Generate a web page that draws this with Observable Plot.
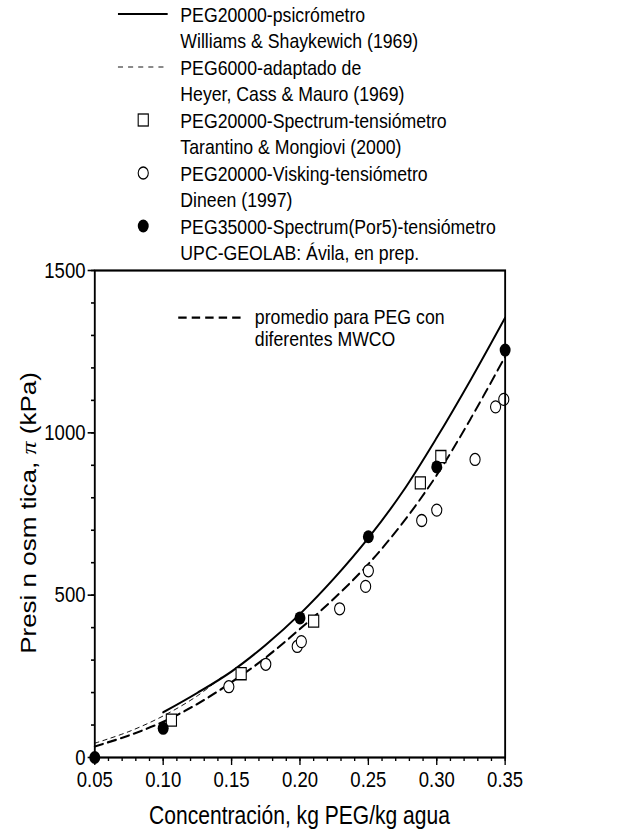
<!DOCTYPE html>
<html>
<head>
<meta charset="utf-8">
<script src="https://cdn.jsdelivr.net/npm/d3@7"></script>
<script src="https://cdn.jsdelivr.net/npm/@observablehq/plot@0.6"></script>
<style>
  html, body { margin: 0; padding: 0; background: #fff; width: 621px; height: 839px; overflow: hidden; }
  #wrap { width: 737px; height: 839px; transform: scaleX(0.84261); transform-origin: 0 0; }
  svg { display: block; }
</style>
</head>
<body>
<div id="wrap"></div>
<script>
// ---- data ----
const majorX = [0.05, 0.10, 0.15, 0.20, 0.25, 0.30, 0.35];
const minorX = d3.range(5, 36).map(d => d / 100);
const majorY = [0, 500, 1000, 1500];
const minorY = d3.range(0, 1501, 100);

// Williams & Shaykewich (1969), PEG20000 psicrómetro (solid)
const solidX = [0.10, 0.125, 0.15, 0.175, 0.20, 0.225, 0.25, 0.275, 0.30, 0.325, 0.35];
const solidY = [139, 199, 265, 347, 442, 552, 676, 818, 985, 1165, 1355];

// promedio para PEG con diferentes MWCO (thick dashed)
const avgX = [0.05, 0.075, 0.10, 0.125, 0.15, 0.175, 0.20, 0.225, 0.25, 0.275, 0.30, 0.325, 0.35];
const avgY = [34, 68, 110, 165, 232, 308, 396, 490, 596, 722, 870, 1045, 1235];

// PEG6000 adaptado de Heyer, Cass & Mauro (1969) (thin dashed)
const heyerX = [0.05, 0.075, 0.10, 0.125, 0.145];
const heyerY = [44, 80, 128, 190, 255];

// Tarantino & Mongiovi (2000) – squares
const squareX = [0.106, 0.157, 0.210, 0.288, 0.303];
const squareY = [115, 258, 420, 846, 927];

// Dineen (1997) – open circles
const openX = [0.148, 0.175, 0.198, 0.201, 0.229, 0.248, 0.250, 0.289, 0.300, 0.328, 0.343, 0.349];
const openY = [218, 287, 342, 357, 458, 527, 575, 730, 762, 918, 1080, 1103];

// UPC-GEOLAB: Ávila – filled circles
const filledX = [0.05, 0.10, 0.20, 0.25, 0.30, 0.35];
const filledY = [0, 90, 430, 680, 895, 1255];

// legend entries
const legendEntries = [
  {type: "solid",  lines: ["PEG20000-psicrómetro", "Williams & Shaykewich (1969)"]},
  {type: "dashed", lines: ["PEG6000-adaptado de", "Heyer, Cass & Mauro (1969)"]},
  {type: "square", lines: ["PEG20000-Spectrum-tensiómetro", "Tarantino & Mongiovi (2000)"]},
  {type: "open",   lines: ["PEG20000-Visking-tensiómetro", "Dineen (1997)"]},
  {type: "filled", lines: ["PEG35000-Spectrum(Por5)-tensiómetro", "UPC-GEOLAB: Ávila, en prep."]}
];
const noteLines = ["promedio para PEG con", "diferentes MWCO"];
const noteSample = [{x1: 0.111, x2: 0.160, y: 1355}];
const noteText = [{x: 0.167, y: 1385, t: noteLines.join("\n")}];

const xTitle = "Concentración, kg PEG/kg agua";
const yTitleA = "Presi n osm tica, ";
const yTitlePi = "π";
const yTitleB = " (kPa)";

const FONT = "'Liberation Sans', Arial, Helvetica, sans-serif";
const W = 737; // drawn at this width, then squeezed to 621 px like the reference

// ---- build tables ----
const zip = (xs, ys) => xs.map((x, i) => ({x, y: ys[i]}));
const solid = zip(solidX, solidY);
const avg = zip(avgX, avgY);
const heyer = zip(heyerX, heyerY);
const squares = zip(squareX, squareY);
const opens = zip(openX, openY);
const filleds = zip(filledX, filledY);

// ---- legend above the plot ----
const LEG_H = 268;
const leg = d3.select("#wrap").append("svg")
  .attr("width", W).attr("height", LEG_H)
  .style("overflow", "visible")
  .style("font-family", FONT).style("font-size", "21px");
const lineH = 26.5, firstY = 14, textX = 214, symX = 170, lx1 = 140, lx2 = 199;
legendEntries.forEach((e, i) => {
  const y0 = firstY + i * 2 * lineH;
  e.lines.forEach((t, j) => {
    leg.append("text").attr("x", textX).attr("y", y0 + j * lineH)
      .attr("dy", "0.36em").attr("fill", "black").text(t);
  });
  if (e.type === "solid") {
    leg.append("line").attr("x1", lx1).attr("x2", lx2).attr("y1", y0).attr("y2", y0)
      .attr("stroke", "black").attr("stroke-width", 1.8);
  } else if (e.type === "dashed") {
    leg.append("line").attr("x1", lx1).attr("x2", lx2).attr("y1", y0).attr("y2", y0)
      .attr("stroke", "black").attr("stroke-width", 1).attr("stroke-dasharray", "6,6");
  } else if (e.type === "square") {
    leg.append("rect").attr("x", symX - 6).attr("y", y0 - 6).attr("width", 12).attr("height", 12)
      .attr("fill", "none").attr("stroke", "black").attr("stroke-width", 1.3);
  } else if (e.type === "open") {
    leg.append("circle").attr("cx", symX).attr("cy", y0).attr("r", 6)
      .attr("fill", "none").attr("stroke", "black").attr("stroke-width", 1.3);
  } else {
    leg.append("circle").attr("cx", symX).attr("cy", y0).attr("r", 6.5).attr("fill", "black");
  }
});

// ---- plot ----
const plot = Plot.plot({
  width: W,
  height: 839 - LEG_H,
  marginTop: 270 - LEG_H,
  marginLeft: 112,
  marginRight: W - 599,
  marginBottom: 82,
  x: {domain: [0.05, 0.35]},
  y: {domain: [0, 1500]},
  style: {fontFamily: FONT, fontSize: "22px", color: "black", background: "transparent", overflow: "visible"},
  marks: [
    Plot.axisX({ticks: minorX, tickSize: 4, tickFormat: () => "", label: null, strokeWidth: 1.6}),
    Plot.axisX({ticks: majorX, tickSize: 8, tickPadding: 6, tickFormat: d3.format(".2f"), label: null, strokeWidth: 1.6}),
    Plot.axisY({ticks: minorY, tickSize: 4, tickFormat: () => "", label: null, strokeWidth: 1.6}),
    Plot.axisY({ticks: majorY, tickSize: 8, tickPadding: 3, tickFormat: d3.format("d"), label: null, strokeWidth: 1.6}),
    Plot.line(heyer, {x: "x", y: "y", curve: "catmull-rom", stroke: "black", strokeWidth: 1, strokeDasharray: "5,5"}),
    Plot.line(avg, {x: "x", y: "y", curve: "catmull-rom", stroke: "black", strokeWidth: 2.2, strokeDasharray: "10,6"}),
    Plot.line(solid, {x: "x", y: "y", curve: "catmull-rom", stroke: "black", strokeWidth: 2.2}),
    Plot.link(noteSample, {x1: "x1", x2: "x2", y1: "y", y2: "y", stroke: "black", strokeWidth: 2.2, strokeDasharray: "10,6"}),
    Plot.text(noteText, {x: "x", y: "y", text: "t", textAnchor: "start", lineAnchor: "top", lineHeight: 1.05, fill: "black", fontSize: 21}),
    Plot.dot(opens, {x: "x", y: "y", r: 6, stroke: "black", fill: "white", strokeWidth: 1.3}),
    Plot.dot(squares, {x: "x", y: "y", symbol: "square", r: 6.8, stroke: "black", fill: "white", strokeWidth: 1.3}),
    Plot.dot(filleds, {x: "x", y: "y", r: 6.5, fill: "black", stroke: "none"}),
    Plot.frame({stroke: "black", strokeWidth: 2.2})
  ]
});

const svg = d3.select(plot);
// axis titles
svg.append("text")
  .attr("x", (112 + 599) / 2).attr("y", 824 - LEG_H)
  .attr("text-anchor", "middle").attr("fill", "black")
  .style("font-family", FONT).style("font-size", "25px")
  .text(xTitle);
const yt = svg.append("text")
  .attr("transform", `translate(33,${513 - LEG_H}) rotate(-90)`)
  .attr("text-anchor", "middle").attr("dy", "0.36em").attr("fill", "black")
  .style("font-family", FONT).style("font-size", "26px");
yt.append("tspan").style("white-space", "pre").text(yTitleA);
yt.append("tspan").style("font-family", "'Liberation Serif', 'DejaVu Serif', serif").style("font-style", "italic").text(yTitlePi);
yt.append("tspan").style("white-space", "pre").text(yTitleB);

document.getElementById("wrap").appendChild(plot);
</script>
</body>
</html>
